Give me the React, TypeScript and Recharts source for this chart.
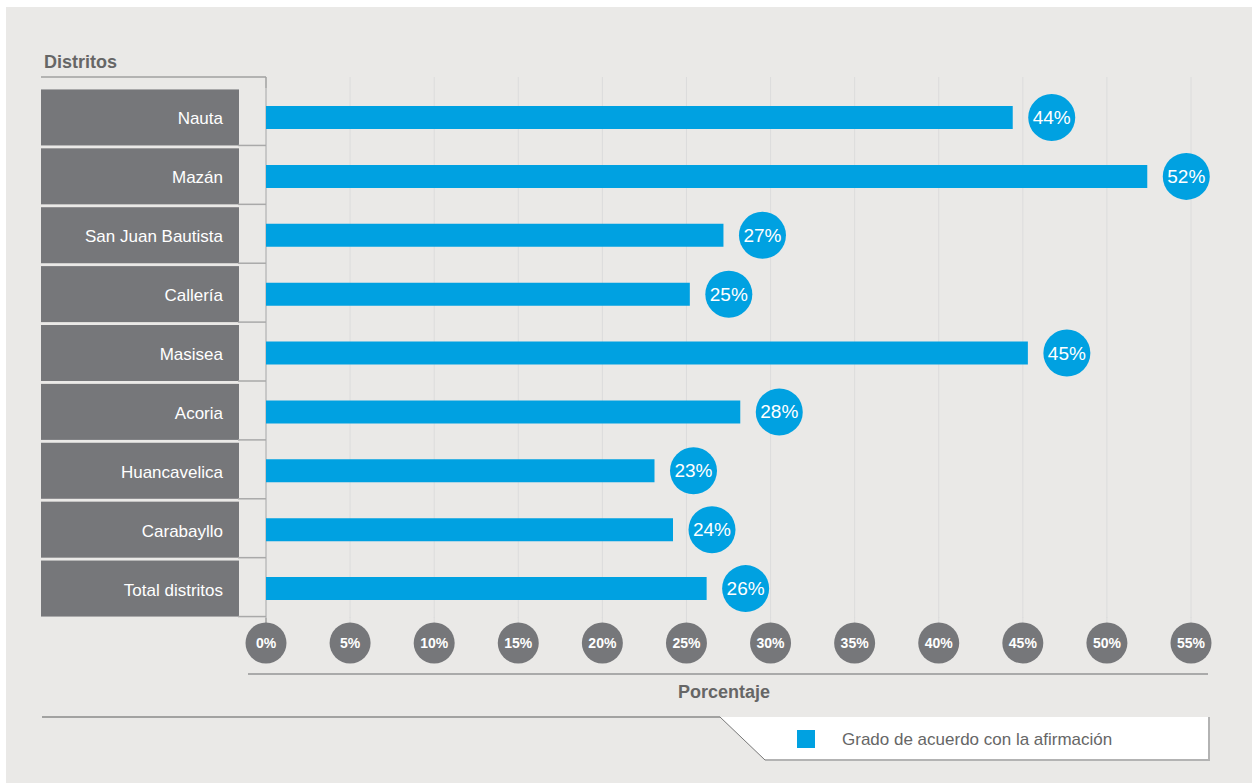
import React from 'react'
import { BarChart, Bar, XAxis, YAxis, CartesianGrid, LabelList, Legend } from 'recharts'

const districts = [
  'Nauta',
  'Mazán',
  'San Juan Bautista',
  'Callería',
  'Masisea',
  'Acoria',
  'Huancavelica',
  'Carabayllo',
  'Total distritos',
]
const agreement = [44.4, 52.4, 27.2, 25.2, 45.3, 28.2, 23.1, 24.2, 26.2]
const percentTicks = [0, 5, 10, 15, 20, 25, 30, 35, 40, 45, 50, 55]
const seriesName = 'Grado de acuerdo con la afirmación'

const data = districts.map((name, i) => ({ name, value: agreement[i] }))

const BLUE = '#00a1e1'
const DARK = '#76777a'
const FONT = '"Liberation Sans", Arial, sans-serif'

function DistrictTick(props: any) {
  const { x, y, payload } = props
  return (
    <g>
      <rect x={x - 182} y={y - 28} width={198} height={56} fill={DARK} />
      <line x1={x + 15} x2={x + 43} y1={y + 28} y2={y + 28} stroke="#a9a9a9" strokeWidth={1.5} />
      <text x={x} y={y} dy={7} textAnchor="end" fill="#fff" fontSize={17} fontFamily={FONT}>
        {payload.value}
      </text>
    </g>
  )
}

function PercentTick(props: any) {
  const { x, y, payload } = props
  return (
    <g>
      {payload.value !== 0 && (
        <>
          <line x1={x} x2={x} y1={y - 566} y2={y - 555} stroke="#dcdcdc" />
          <line x1={x} x2={x} y1={y - 26} y2={y - 20} stroke="#dcdcdc" />
        </>
      )}
      <circle cx={x} cy={y} r={20.5} fill={DARK} />
      <text x={x} y={y} dy={5} textAnchor="middle" fill="#fff" fontSize={14} fontWeight="bold" fontFamily={FONT}>
        {payload.value}%
      </text>
    </g>
  )
}

function ValueBubble(props: any) {
  const { x, y, width, height, value } = props
  const cx = x + width + 39
  const cy = y + height / 2
  return (
    <g>
      <circle cx={cx} cy={cy} r={23.5} fill={BLUE} />
      <text x={cx} y={cy} dy={6.5} textAnchor="middle" fill="#fff" fontSize={19} fontFamily={FONT}>
        {Math.round(value)}%
      </text>
    </g>
  )
}

function LegendBox(props: any) {
  const { payload } = props
  return (
    <svg width={494} height={48} style={{ display: 'block' }}>
      <polygon points="2,2 491,2 491,45 47,45" fill="#fff" />
      <line x1={2} y1={2} x2={47} y2={45} stroke="#777" strokeWidth={1} />
      <line x1={491} y1={2} x2={491} y2={46} stroke="#b3b3b3" strokeWidth={2} />
      <line x1={47} y1={45} x2={492} y2={45} stroke="#b3b3b3" strokeWidth={2} />
      {(payload || []).map((entry: any) => (
        <g key={entry.value}>
          <rect x={79} y={15} width={18} height={18} fill={entry.color || BLUE} />
          <text x={124} y={30} fill="#666" fontSize={17} fontFamily={FONT}>
            {entry.value}
          </text>
        </g>
      ))}
    </svg>
  )
}

export default function App() {
  return (
    <div style={{ position: 'absolute', left: 0, top: 0, width: 1252, height: 783, background: '#fff', overflow: 'hidden' }}>
      <div style={{ position: 'absolute', left: 6, top: 7, right: 0, bottom: 0, background: '#eae9e7' }} />
      <svg width={1252} height={783} style={{ position: 'absolute', left: 0, top: 0 }}>
        <text x={44} y={68} fill="#666" fontSize={18} fontWeight="bold" fontFamily={FONT}>
          Distritos
        </text>
        <line x1={41} x2={266} y1={77} y2={77} stroke="#a0a0a0" strokeWidth={1.5} />
        <line x1={266} x2={266} y1={77} y2={623} stroke="#a0a0a0" strokeWidth={1.5} />
        <line x1={248} x2={1208} y1={674} y2={674} stroke="#aaa" strokeWidth={2} />
        <text x={724} y={698} textAnchor="middle" fill="#666" fontSize={18} fontWeight="bold" fontFamily={FONT}>
          Porcentaje
        </text>
        <line x1={42} x2={720} y1={717} y2={717} stroke="#8a8a8a" strokeWidth={1.5} />
      </svg>
      <div style={{ position: 'absolute', left: 0, top: 0 }}>
        <BarChart
          width={1252}
          height={783}
          data={data}
          layout="vertical"
          margin={{ top: 88, right: 61, bottom: 135, left: 41 }}
        >
          <CartesianGrid horizontal={false} stroke="#dcdcdc" />
          <XAxis
            type="number"
            domain={[0, 55]}
            ticks={percentTicks}
            interval={0}
            height={30}
            axisLine={false}
            tickLine={false}
            tickSize={0}
            tickMargin={25}
            tick={<PercentTick />}
          />
          <YAxis
            type="category"
            dataKey="name"
            width={225}
            axisLine={false}
            tickLine={false}
            tickSize={0}
            tickMargin={43}
            interval={0}
            tick={<DistrictTick />}
          />
          <Legend
            verticalAlign="middle"
            align="center"
            wrapperStyle={{ left: 718, top: 715, width: 494, height: 48 }}
            content={<LegendBox />}
          />
          <Bar dataKey="value" name={seriesName} fill={BLUE} barSize={23} isAnimationActive={false}>
            <LabelList dataKey="value" content={<ValueBubble />} />
          </Bar>
        </BarChart>
      </div>
    </div>
  )
}
